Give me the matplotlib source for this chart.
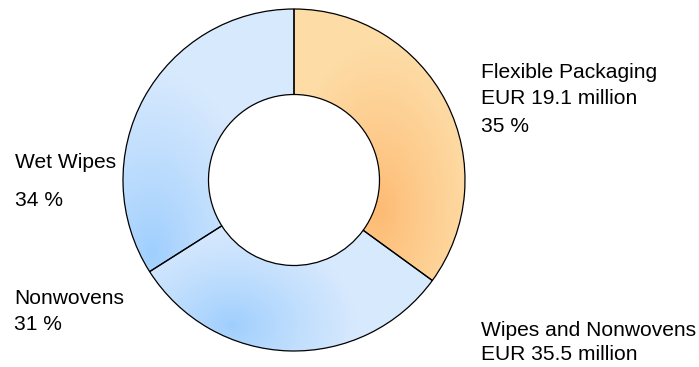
import numpy as np
import matplotlib
matplotlib.use("Agg")
import matplotlib.pyplot as plt
from matplotlib.colors import to_rgb

# ---- data ----
segments = ["Flexible Packaging", "Nonwovens", "Wet Wipes"]
shares = [35, 31, 34]
group_labels = ["Flexible Packaging\nEUR 19.1 million", "Wipes and Nonwovens\nEUR 35.5 million"]
pct_labels = ["35 %", "31 %", "34 %"]

W, H = 699, 367
fig = plt.figure(figsize=(W / 100, H / 100), dpi=100)
ax = fig.add_axes([0, 0, 1, 1])

cx, cy = 294, H - 180
R = 171
ring = 85.5

wedges, _ = ax.pie(shares, startangle=90, counterclock=False, center=(cx, cy),
                   radius=R, frame=True,
                   wedgeprops=dict(width=ring, edgecolor="black", linewidth=0.9,
                                   facecolor="none"))
ax.set_xlim(0, W)
ax.set_ylim(0, H)
ax.set_aspect("equal")
ax.axis("off")

# gradient fills (style only)
xx, yy = np.meshgrid(np.arange(W) + 0.5, H - (np.arange(H) + 0.5))
ypix = H - yy
grad_specs = [
    # center x, center y (px from top), rx, ry, dark, light
    (380, 210, 95, 165, "#FDBA72", "#FEDCA6"),
    (232, 325, 125, 95, "#9ECEFD", "#D7E9FD"),
    (152, 252, 110, 180, "#9ECEFD", "#D7E9FD"),
]
for w, (gx, gy, rx, ry, dark, light) in zip(wedges, grad_specs):
    t = np.sqrt(((xx - gx) / rx) ** 2 + ((ypix - gy) / ry) ** 2)
    t = np.clip(t, 0, 1) ** 0.85
    d = np.array(to_rgb(dark)); l = np.array(to_rgb(light))
    img = d[None, None, :] + (l - d)[None, None, :] * t[..., None]
    im = ax.imshow(img, extent=(0, W, 0, H), origin="upper", zorder=0.5,
                   interpolation="bilinear")
    im.set_clip_path(w)
    w.set_zorder(1)

ax.set_xlim(0, W)
ax.set_ylim(0, H)

font = dict(family=["Liberation Sans", "DejaVu Sans"], fontsize=15.1, color="#000000")

ax.text(481, H - 72, "Flexible Packaging", va="center", ha="left", **font)
ax.text(481, H - 98, "EUR 19.1 million", va="center", ha="left", **font)
ax.text(481, H - 127, pct_labels[0], va="center", ha="left", **font)

ax.text(15, H - 163, segments[2], va="center", ha="left", **font)
ax.text(15, H - 201, pct_labels[2], va="center", ha="left", **font)

ax.text(14, H - 299, segments[1], va="center", ha="left", **font)
ax.text(14, H - 325, pct_labels[1], va="center", ha="left", **font)

ax.text(481, H - 330, "Wipes and Nonwovens", va="center", ha="left", **font)
ax.text(481, H - 355, "EUR 35.5 million", va="center", ha="left", **font)

fig.savefig("out.png", dpi=100)
